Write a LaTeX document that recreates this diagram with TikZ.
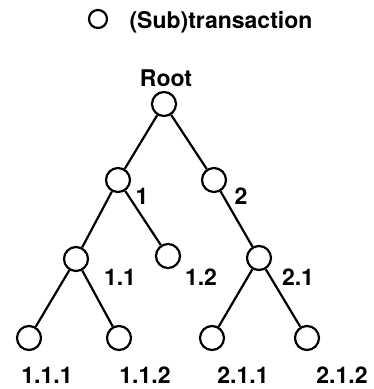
\documentclass[tikz,border=0pt]{standalone}
\usepackage{fontspec}
\setmainfont{TeX Gyre Heros}
\begin{document}
\begin{tikzpicture}[x=1pt,y=-1pt,
  tnode/.style={circle,draw,line width=2.2pt,minimum size=24pt,inner sep=0pt},
  lbl/.style={font=\fontsize{23}{23}\selectfont\bfseries,inner sep=0pt},
  edge/.style={line width=2.2pt}]
\useasboundingbox (0,0) rectangle (373,389);
% legend
\node[circle,draw,line width=2.2pt,minimum size=18pt,inner sep=0pt] (leg) at (98,19) {};
\node[lbl,font=\fontsize{23}{23}\selectfont\bfseries] (legtxt) at (221,22) {(Sub)transaction};
% tree nodes
\node[tnode] (r) at (164,104) {};
\node[tnode] (n1) at (118,180) {};
\node[tnode] (n2) at (214,180) {};
\node[tnode] (n11) at (76,259) {};
\node[tnode] (n12) at (168,256) {};
\node[tnode] (n21) at (259,258) {};
\node[tnode] (n111) at (29,338) {};
\node[tnode] (n112) at (119,338) {};
\node[tnode] (n211) at (212,338) {};
\node[tnode] (n212) at (307,338) {};
% labels
\node[lbl] (lr) at (166,78) {Root};
\node[lbl] (l1) at (142,196) {1};
\node[lbl] (l2) at (241,196) {2};
\node[lbl] (l11) at (120,277) {1.1};
\node[lbl] (l12) at (201,277) {1.2};
\node[lbl] (l21) at (298,277) {2.1};
\node[lbl] (l111) at (47,375) {1.1.1};
\node[lbl] (l112) at (145,375) {1.1.2};
\node[lbl] (l211) at (243,375) {2.1.1};
\node[lbl] (l212) at (342,375) {2.1.2};
% edges
\draw[edge] (r) -- (n1);
\draw[edge] (r) -- (n2);
\draw[edge] (n1) -- (n11);
\draw[edge] (n1) -- (n12);
\draw[edge] (n2) -- (n21);
\draw[edge] (n11) -- (n111);
\draw[edge] (n11) -- (n112);
\draw[edge] (n21) -- (n211);
\draw[edge] (n21) -- (n212);
\end{tikzpicture}
\end{document}
